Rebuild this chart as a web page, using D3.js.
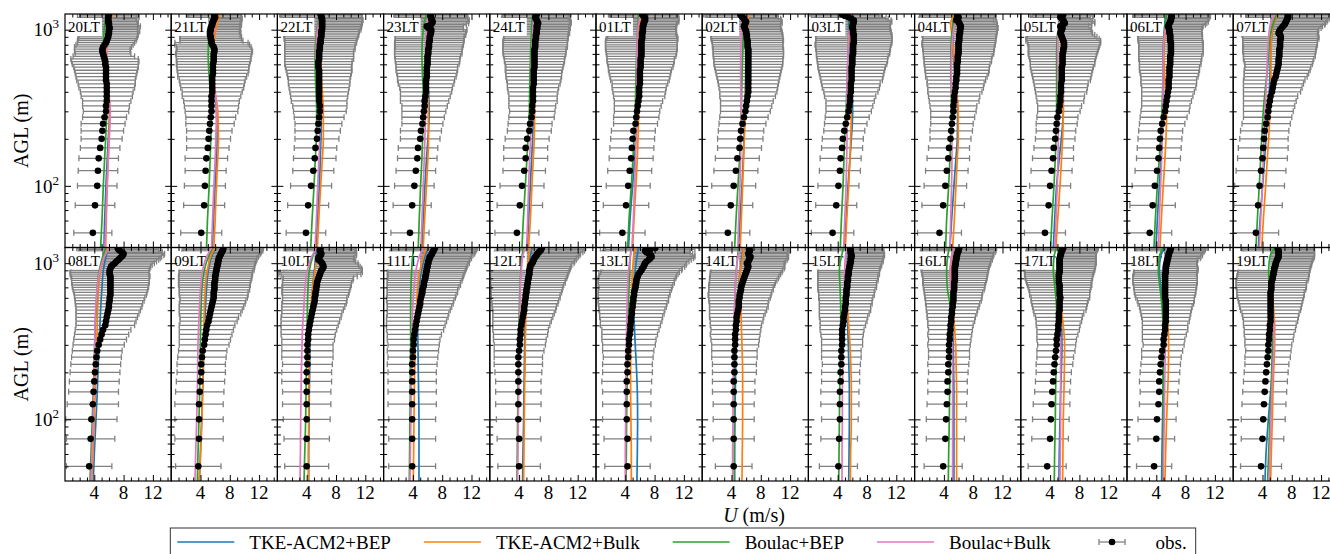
<!DOCTYPE html>
<html>
<head>
<meta charset="utf-8">
<script src="https://cdn.jsdelivr.net/npm/d3@7"></script>
<style>
  body { margin: 0; background: #fff; }
  svg { display: block; }
  svg text { font-family: "Liberation Serif", "DejaVu Serif", "Times New Roman", serif; fill: #000; }
</style>
</head>
<body>
<svg id="chart" width="1330" height="554" font-family="Liberation Serif, DejaVu Serif, serif"></svg>
<script>
// hours shown in the panels, left to right, top row then bottom row
const hours = ['20LT','21LT','22LT','23LT','24LT','01LT','02LT','03LT','04LT','05LT','06LT','07LT',
               '08LT','09LT','10LT','11LT','12LT','13LT','14LT','15LT','16LT','17LT','18LT','19LT']

// lidar levels (m AGL)
const obsHeights = [50,75,100,125,150,175,200,225,250,275,300,325,350,375,400,425,450,475,500,525,550,575,600,625,650,
                    675,700,725,750,775,800,825,850,875,900,925,950,975,1000,1025,1050,1075,1100,1125,1150,1175,1200,1225,1250]

// observed mean wind speed (m/s), one row per hour
const obsMean = [
  [3.8,4.1,4.4,4.5,4.6,4.8,5.0, 5.1,5.2,5.4,5.6,5.6,5.7,5.7, 5.7,5.7,5.7,5.6,5.6,5.6,5.6, 5.6,5.5,5.5,5.4,5.3,5.2,5.1, 5.1,5.2,5.4,5.6,5.7,5.8,5.9, 5.9,6.0,6.0,6.0,6.1,6.0,6.0, 6.0,5.9,5.9,5.9,5.9,5.9,6.0],
  [4.1,4.5,4.6,4.7,4.8,5.0,5.1, 5.2,5.3,5.4,5.5,5.5,5.5,5.5, 5.6,5.6,5.6,5.6,5.6,5.7,5.7, 5.7,5.7,5.8,5.8,5.8,5.8,5.9, 5.9,5.8,5.6,5.5,5.5,5.4,5.4, 5.3,5.3,5.3,5.4,5.4,5.5,5.6, 5.6,5.7,5.8,5.9,6.0,5.9,5.9],
  [3.9,4.2,4.6,4.9,5.1,5.2,5.4, 5.5,5.6,5.7,5.8,5.8,5.7,5.7, 5.7,5.7,5.7,5.7,5.7,5.7,5.7, 5.6,5.6,5.6,5.7,5.7,5.7,5.7, 5.8,5.8,5.8,5.9,5.9,5.9,6.0, 6.0,6.0,6.0,6.1,6.1,6.1,6.1, 6.1,6.1,6.1,6.1,6.0,6.0,5.9],
  [3.6,3.9,4.2,4.4,4.6,4.7,5.0, 5.1,5.3,5.4,5.5,5.6,5.6,5.7, 5.8,5.8,5.8,5.8,5.9,5.9,5.9, 5.9,6.0,6.0,6.0,6.0,6.1,6.1, 6.1,6.2,6.2,6.2,6.3,6.3,6.3, 6.4,6.4,6.5,6.5,6.1,5.9,6.4, 6.6,6.7,6.6,6.5,6.5,6.4,6.4],
  [3.7,4.1,4.4,4.7,4.9,4.9,5.1, 5.4,5.5,5.7,5.8,5.8,5.9,5.9, 5.9,5.9,6.0,6.0,6.0,6.0,6.0, 6.1,6.1,6.1,6.1,6.1,6.1,6.1, 6.1,6.2,6.2,6.2,6.2,6.3,6.3, 6.3,6.4,6.4,6.4,6.5,6.4,6.5, 6.6,6.5,6.4,6.3,6.2,6.3,6.4],
  [3.6,4.1,4.4,4.6,4.8,4.9,5.0, 5.1,5.4,5.5,5.6,5.7,5.8,5.9, 5.9,5.9,6.0,6.0,6.0,6.0,6.0, 6.1,6.1,6.1,6.1,6.2,6.2,6.2, 6.2,6.2,6.2,6.2,6.2,6.3,6.3, 6.3,6.3,6.4,6.4,6.4,6.4,6.5, 6.5,6.6,6.7,6.7,6.6,6.5,6.3],
  [3.5,3.9,4.3,4.6,4.8,5.1,5.2, 5.3,5.5,5.7,5.9,6.0,6.1,6.2, 6.3,6.3,6.3,6.3,6.3,6.3,6.3, 6.3,6.3,6.3,6.3,6.3,6.3,6.3, 6.3,6.2,6.2,6.2,6.2,6.1,6.1, 6.1,6.0,6.0,5.9,5.8,5.7,5.8, 5.9,6.0,5.8,5.7,5.5,5.4,5.2],
  [3.3,3.8,4.1,4.3,4.4,4.6,4.7, 4.9,5.1,5.3,5.5,5.6,5.7,5.7, 5.8,5.8,5.8,5.9,5.9,5.9,5.9, 5.9,6.0,6.0,6.0,6.0,6.1,6.1, 6.1,6.1,6.1,6.2,6.2,6.2,6.2, 6.2,6.1,6.1,6.1,6.0,6.0,6.1, 6.1,6.2,6.2,5.9,5.5,5.0,4.6],
  [3.4,3.9,4.2,4.4,4.6,4.7,4.9, 5.0,5.1,5.2,5.3,5.3,5.4,5.4, 5.5,5.6,5.6,5.7,5.7,5.8,5.8, 5.8,5.8,5.9,5.9,5.9,6.0,6.0, 6.0,6.0,6.0,6.0,6.1,6.1,6.1, 6.1,6.2,6.2,6.2,6.3,6.3,6.2, 6.1,6.0,5.7,5.8,6.0,5.9,5.8],
  [3.3,3.8,4.0,4.2,4.4,4.5,4.7, 4.8,4.9,5.0,5.2,5.3,5.4,5.4, 5.5,5.5,5.5,5.6,5.6,5.6,5.6, 5.6,5.7,5.7,5.7,5.7,5.7,5.8, 5.8,5.9,5.9,5.9,5.8,5.7,5.6, 5.5,5.4,5.5,5.6,5.7,5.4,5.7, 6.0,5.9,5.8,5.6,5.4,5.6,5.8],
  [3.1,3.5,3.8,4.1,4.3,4.4,4.5, 4.6,4.8,5.0,5.2,5.3,5.4,5.5, 5.6,5.7,5.7,5.7,5.8,5.8,5.8, 5.8,5.9,5.9,5.9,5.9,6.0,6.0, 6.0,6.0,6.0,6.0,5.9,5.9,5.9, 5.9,5.8,5.8,5.8,5.7,5.6,5.7, 5.8,5.9,6.0,6.0,6.1,6.1,6.1],
  [3.1,3.4,3.6,3.8,4.0,4.1,4.2, 4.3,4.5,4.7,4.8,4.9,5.0,5.1, 5.3,5.4,5.5,5.6,5.8,5.9,6.0, 6.1,6.2,6.2,6.2,6.3,6.3,6.3, 6.3,6.4,6.4,6.4,6.4,6.5,6.5, 6.4,6.2,6.3,6.4,6.6,6.8,7.0, 7.1,7.2,7.3,7.4,7.5,7.5,7.5],
  [3.3,3.5,3.6,3.8,3.9,4.0,4.1, 4.2,4.3,4.4,4.6,4.8,5.0,5.2, 5.5,5.6,5.7,5.8,5.9,6.0,6.0, 6.1,6.1,6.2,6.2,6.2,6.2,6.2, 6.2,6.2,6.2,6.2,6.1,6.1,6.1, 6.2,6.3,6.5,6.8,7.0,7.3,7.5, 7.7,7.9,8.0,7.8,7.5,7.3,7.2],
  [3.7,3.8,3.8,3.8,3.9,4.0,4.1, 4.1,4.2,4.3,4.5,4.6,4.7,4.8, 4.9,5.1,5.2,5.3,5.4,5.5,5.6, 5.7,5.8,5.8,5.8,5.9,5.9,5.9, 5.9,6.0,6.0,6.0,6.1,6.1,6.2, 6.2,6.3,6.3,6.4,6.4,6.5,6.5, 6.6,6.7,6.8,6.9,7.0,7.1,7.1],
  [4.0,4.0,4.0,4.0,4.0,4.0,4.0, 4.1,4.1,4.1,4.1,4.2,4.2,4.3, 4.4,4.5,4.6,4.7,4.8,4.9,5.0, 5.1,5.1,5.2,5.2,5.3,5.3,5.4, 5.4,5.5,5.6,5.7,5.8,5.9,6.0, 6.2,6.3,6.2,6.1,5.9,5.6,5.6, 5.7,5.9,6.0,5.9,5.8,5.8,5.9],
  [3.9,3.9,3.9,3.9,3.9,3.9,3.9, 3.9,4.0,4.0,4.1,4.1,4.2,4.3, 4.4,4.5,4.6,4.7,4.8,4.9,5.0, 5.0,5.1,5.2,5.3,5.3,5.4,5.5, 5.5,5.6,5.7,5.7,5.8,5.8,5.9, 5.9,6.0,6.0,6.1,6.1,6.2,6.3, 6.3,6.5,6.6,6.7,6.8,6.9,7.0],
  [4.0,4.0,3.9,3.9,3.9,3.9,3.9, 3.9,3.9,4.0,4.1,4.1,4.2,4.2, 4.3,4.4,4.5,4.6,4.7,4.7,4.8, 4.8,4.9,4.9,5.0,5.0,5.1,5.1, 5.2,5.2,5.3,5.3,5.4,5.4,5.4, 5.5,5.5,5.6,5.8,5.9,6.0,6.1, 6.2,6.4,6.5,6.7,6.9,7.0,7.1],
  [4.3,4.3,4.2,4.2,4.2,4.2,4.3, 4.3,4.4,4.4,4.5,4.5,4.6,4.7, 4.7,4.8,4.8,4.9,4.9,5.0,5.0, 5.1,5.1,5.2,5.2,5.3,5.4,5.4, 5.5,5.5,5.6,5.7,5.8,6.0,6.2, 6.3,6.5,6.6,6.7,6.9,7.2,7.4, 7.6,7.5,7.2,6.9,6.7,7.4,8.1],
  [4.3,4.3,4.3,4.3,4.3,4.3,4.4, 4.4,4.4,4.4,4.5,4.5,4.5,4.6, 4.6,4.7,4.7,4.8,4.9,5.0,5.0, 5.0,5.1,5.1,5.2,5.3,5.3,5.4, 5.5,5.6,5.7,5.8,5.9,6.0,6.1, 6.2,6.3,6.2,6.1,6.3,6.4,6.5, 6.6,6.4,6.3,6.4,6.5,6.4,6.4],
  [4.1,4.2,4.3,4.3,4.3,4.4,4.4, 4.5,4.5,4.5,4.6,4.6,4.6,4.6, 4.7,4.8,4.8,4.9,5.0,5.0,5.1, 5.1,5.1,5.2,5.2,5.2,5.3,5.3, 5.3,5.4,5.4,5.4,5.5,5.5,5.5, 5.6,5.6,5.7,5.7,5.8,5.8,5.8, 5.9,5.9,5.8,5.8,5.8,5.7,5.7],
  [3.9,4.2,4.3,4.4,4.5,4.5,4.6, 4.6,4.7,4.7,4.7,4.8,4.8,4.9, 4.9,5.0,5.0,5.1,5.1,5.2,5.2, 5.3,5.3,5.3,5.3,5.4,5.4,5.4, 5.4,5.5,5.5,5.5,5.5,5.5,5.5, 5.5,5.5,5.6,5.6,5.6,5.7,5.7, 5.7,5.8,5.8,5.9,6.0,6.0,6.1],
  [3.6,4.0,4.1,4.2,4.3,4.4,4.5, 4.6,4.7,4.8,4.9,4.9,5.0,5.1, 5.1,5.2,5.2,5.2,5.3,5.3,5.3, 5.3,5.4,5.3,5.3,5.3,5.3,5.3, 5.2,5.2,5.2,5.2,5.2,5.3,5.3, 5.3,5.3,5.3,5.3,5.3,5.3,5.3, 5.4,5.4,5.5,5.5,5.6,5.7,5.8],
  [3.7,4.0,4.1,4.3,4.4,4.4,4.5, 4.6,4.7,4.8,5.0,5.0,5.1,5.2, 5.2,5.3,5.3,5.3,5.3,5.3,5.3, 5.3,5.2,5.2,5.2,5.2,5.2,5.2, 5.2,5.2,5.2,5.2,5.2,5.3,5.3, 5.3,5.3,5.4,5.4,5.5,5.5,5.6, 5.6,5.7,5.7,5.8,5.9,5.9,6.0],
  [3.8,4.0,4.1,4.2,4.3,4.4,4.5, 4.6,4.7,4.8,4.8,4.9,4.9,5.0, 5.0,5.1,5.1,5.1,5.1,5.1,5.1, 5.1,5.1,5.1,5.1,5.2,5.2,5.2, 5.2,5.3,5.4,5.4,5.5,5.5,5.6, 5.6,5.7,5.8,5.8,5.9,6.0,6.1, 6.2,6.2,6.2,6.2,6.2,6.1,6.1]
]

// observed standard deviation (m/s), drawn as horizontal error bars
const obsStd = [
  [2.6,2.7,2.7,2.7,2.7,2.7,2.8, 2.9,3.0,3.0,3.1,3.2,3.3,3.5, 3.6,3.8,3.9,4.0,4.1,4.2,4.3, 4.4,4.5,4.6,4.6,4.2,3.8,3.8, 3.8,3.9,3.9,3.9,4.0,4.0,4.0, 4.1,3.9,4.2,3.9,4.0,4.3,3.9, 4.0,4.1,3.9,3.8,4.2,3.9,4.0],
  [2.8,2.8,2.8,2.8,2.9,2.9,3.0, 3.1,3.3,3.4,3.6,3.7,3.8,4.0, 4.1,4.3,4.4,4.5,4.7,4.8,4.9, 4.9,5.0,5.0,5.1,5.1,5.2,5.2, 5.1,5.1,5.1,5.0,4.3,4.2,4.2, 4.1,4.2,4.0,4.1,4.0,3.9,4.0, 3.8,3.9,3.7,3.8,3.6,3.7,3.6],
  [2.7,2.8,2.8,2.8,2.9,2.9,3.0, 3.1,3.2,3.4,3.6,3.7,3.8,3.9, 4.0,4.1,4.2,4.2,4.3,4.4,4.5, 4.5,4.6,4.6,4.7,4.7,4.7,4.7, 4.8,4.8,4.8,4.9,4.9,5.0,5.0, 5.1,5.1,5.2,5.3,5.3,5.4,5.4, 5.5,5.5,5.6,5.5,5.6,5.5,5.6],
  [2.6,2.6,2.7,2.7,2.7,2.7,2.7, 2.8,2.8,2.9,3.0,3.1,3.3,3.4, 3.5,3.6,3.8,3.9,4.0,4.1,4.2, 4.2,4.3,4.4,4.4,4.5,4.6,4.6, 4.6,4.6,4.7,4.7,4.7,4.7,4.7, 4.8,4.8,4.8,4.9,4.8,5.0,4.9, 5.0,4.9,5.1,5.0,5.0,4.9,5.0],
  [3.0,3.1,3.0,2.9,3.0,3.0,3.0, 3.0,3.0,3.1,3.1,3.2,3.3,3.3, 3.4,3.5,3.6,3.7,3.8,3.8,3.9, 3.9,4.0,4.1,4.1,4.2,4.3,4.3, 4.3,4.4,4.4,4.4,4.4,4.4,4.4, 4.4,4.5,4.4,4.4,4.5,4.4,4.5, 4.5,4.6,4.5,4.7,4.5,4.6,4.6],
  [3.1,3.1,3.0,3.0,3.0,3.0,3.0, 3.0,3.0,3.1,3.1,3.2,3.3,3.5, 3.6,3.7,3.8,4.0,4.1,4.2,4.3, 4.4,4.5,4.6,4.6,4.7,4.8,4.8, 4.9,4.9,4.9,4.9,4.9,4.9,4.8, 4.7,4.6,4.6,4.5,4.5,4.6,4.5, 4.6,4.7,4.6,4.6,4.7,4.6,4.6],
  [3.0,3.0,3.0,3.0,3.0,3.0,3.1, 3.1,3.2,3.3,3.4,3.5,3.6,3.8, 3.9,4.0,4.1,4.2,4.3,4.4,4.5, 4.6,4.7,4.7,4.7,4.8,4.8,4.8, 4.8,4.8,4.8,4.8,4.9,4.9,4.9, 4.9,4.9,4.9,4.9,4.9,5.0,4.9, 5.0,4.9,5.0,5.0,4.9,5.0,5.0],
  [2.9,2.8,2.8,2.8,2.8,2.8,2.8, 2.8,2.9,3.0,3.1,3.2,3.3,3.5, 3.7,3.9,4.0,4.2,4.3,4.4,4.5, 4.6,4.7,4.8,4.8,4.9,5.0,5.0, 5.1,5.1,5.2,5.2,5.2,5.2,5.2, 5.2,5.2,5.2,5.1,5.1,5.2,5.1, 5.1,5.2,5.1,5.0,5.1,5.0,5.0],
  [3.0,2.9,2.9,2.9,2.9,2.8,2.8, 2.9,2.9,3.0,3.1,3.2,3.4,3.5, 3.7,3.8,3.9,4.0,4.2,4.3,4.4, 4.4,4.5,4.6,4.6,4.7,4.8,4.8, 4.9,4.9,5.0,5.0,5.0,5.0,5.0, 5.1,5.0,5.1,5.1,5.1,5.0,5.1, 5.1,5.2,5.1,5.2,5.1,5.2,5.1],
  [2.8,2.8,2.8,2.8,2.8,2.7,2.7, 2.7,2.8,2.8,2.9,3.0,3.2,3.3, 3.5,3.6,3.7,3.9,4.0,4.1,4.2, 4.3,4.4,4.4,4.5,4.6,4.7,4.7, 4.8,4.8,4.9,5.0,5.1,5.0,4.8, 4.6,4.4,4.2,4.0,3.9,3.9,4.0, 4.1,4.2,4.0,4.2,4.1,4.3,4.2],
  [3.0,3.1,3.1,3.0,3.0,3.0,3.0, 3.0,3.1,3.2,3.3,3.3,3.4,3.5, 3.6,3.7,3.8,3.8,3.9,4.0,4.1, 4.1,4.2,4.2,4.3,4.3,4.4,4.4, 4.4,4.4,4.4,4.4,4.4,4.4,4.4, 4.4,4.4,4.4,4.4,4.6,4.8,5.0, 5.1,5.2,5.1,5.2,5.2,5.3,5.2],
  [3.1,3.3,3.4,3.4,3.4,3.4,3.3, 3.3,3.3,3.3,3.4,3.5,3.6,3.7, 3.9,4.0,4.1,4.2,4.3,4.4,4.5, 4.5,4.6,4.7,4.8,4.9,4.9,5.0, 5.0,5.0,5.1,5.1,5.1,5.2,5.2, 5.2,5.3,5.3,5.3,5.4,5.4,5.5, 5.5,5.6,5.6,5.7,5.7,5.8,5.8],
  [3.1,3.3,3.5,3.5,3.4,3.4,3.4, 3.4,3.4,3.4,3.5,3.6,3.7,3.8, 4.0,4.1,4.2,4.3,4.4,4.5,4.6, 4.7,4.8,4.9,5.0,5.1,5.2,5.2, 5.3,5.3,5.3,5.4,5.4,5.4,5.4, 5.4,5.4,5.4,5.4,5.5,5.5,5.5, 5.5,5.6,5.6,5.5,5.6,5.5,5.6],
  [3.1,3.3,3.3,3.3,3.3,3.3,3.3, 3.3,3.3,3.3,3.4,3.5,3.6,3.7, 3.8,3.9,4.0,4.2,4.3,4.4,4.5, 4.5,4.6,4.7,4.7,4.8,4.8,4.9, 4.9,4.9,5.0,5.0,5.0,5.0,5.1, 5.1,5.1,5.1,5.1,5.2,5.2,5.2, 5.3,5.3,5.4,5.4,5.5,5.4,5.5],
  [3.0,3.1,3.2,3.3,3.3,3.4,3.4, 3.4,3.5,3.5,3.5,3.6,3.7,3.8, 3.9,4.0,4.1,4.1,4.2,4.3,4.4, 4.4,4.4,4.5,4.6,4.6,4.7,4.7, 4.7,4.8,4.8,5.2,5.6,5.7,5.6, 5.3,5.0,4.9,4.9,4.8,4.9,4.8, 4.9,4.9,4.8,4.9,4.9,4.8,4.9],
  [3.2,3.2,3.2,3.3,3.3,3.3,3.3, 3.4,3.4,3.5,3.5,3.6,3.7,3.9, 4.0,4.1,4.2,4.2,4.3,4.4,4.5, 4.6,4.7,4.7,4.8,4.8,4.9,5.0, 5.0,5.1,5.1,5.2,5.2,5.3,5.3, 5.4,5.4,5.5,5.6,5.6,5.6,5.7, 5.7,5.7,5.8,5.8,5.8,5.8,5.8],
  [2.9,3.0,3.0,3.1,3.1,3.1,3.2, 3.3,3.3,3.4,3.5,3.6,3.7,3.8, 3.9,4.0,4.1,4.2,4.3,4.4,4.5, 4.6,4.7,4.7,4.8,4.9,4.9,5.0, 5.1,5.1,5.2,5.3,5.3,5.4,5.5, 5.5,5.6,5.6,5.7,5.7,5.8,5.8, 5.9,5.9,5.9,6.0,6.0,6.0,6.0],
  [3.1,3.2,3.3,3.3,3.3,3.4,3.4, 3.4,3.4,3.5,3.6,3.7,3.8,3.9, 4.1,4.2,4.3,4.4,4.5,4.6,4.7, 4.8,4.8,4.9,4.9,5.0,5.0,5.1, 5.2,5.2,5.3,5.3,5.4,5.4,5.5, 5.5,5.6,5.7,5.7,5.8,5.8,5.9, 5.9,6.0,6.0,6.0,6.1,6.1,6.1],
  [2.5,2.8,2.8,2.8,2.9,2.9,3.0, 3.0,3.1,3.1,3.2,3.3,3.4,3.4, 3.5,3.6,3.7,3.8,3.9,4.0,4.0, 4.1,4.2,4.3,4.3,4.4,4.4,4.5, 4.5,4.6,4.7,4.7,4.8,4.9,4.9, 5.0,5.0,5.0,5.1,5.1,5.2,5.2, 5.2,5.3,5.3,5.3,5.4,5.3,5.4],
  [2.6,2.5,2.5,2.6,2.6,2.6,2.6, 2.6,2.7,2.7,2.8,2.8,2.9,3.0, 3.1,3.2,3.3,3.4,3.5,3.5,3.6, 3.6,3.7,3.8,3.8,3.9,4.0,4.0, 4.0,4.1,4.1,4.1,4.2,4.2,4.2, 4.2,4.3,4.3,4.3,4.4,4.4,4.4, 4.4,4.5,4.5,4.5,4.5,4.5,4.5],
  [2.6,2.6,2.7,2.7,2.7,2.7,2.7, 2.8,2.8,2.8,2.9,2.9,3.0,3.0, 3.1,3.2,3.3,3.4,3.5,3.6,3.7, 3.8,3.9,3.9,4.0,4.1,4.2,4.2, 4.3,4.3,4.4,4.4,4.5,4.5,4.6, 4.6,4.7,4.7,4.8,4.8,4.9,4.9, 5.0,5.0,5.0,5.1,5.1,5.1,5.1],
  [2.6,2.5,2.5,2.5,2.4,2.4,2.4, 2.5,2.5,2.6,2.6,2.7,2.8,2.9, 3.0,3.1,3.2,3.4,3.6,3.7,3.8, 3.9,4.0,4.1,4.1,4.2,4.3,4.4, 4.4,4.5,4.6,4.6,4.7,4.7,4.8, 4.8,4.9,4.9,5.0,5.0,5.0,4.9, 4.9,4.9,4.8,4.8,4.8,4.8,4.8],
  [2.4,2.5,2.6,2.6,2.6,2.7,2.7, 2.7,2.7,2.8,2.8,2.9,3.0,3.1, 3.1,3.2,3.3,3.4,3.5,3.6,3.8, 3.9,4.0,4.1,4.2,4.2,4.3,4.3, 4.4,4.4,4.4,4.4,4.3,4.3,4.4, 4.4,4.3,4.2,4.1,4.1,4.2,4.4, 4.5,4.6,4.6,4.7,4.7,4.8,4.8],
  [2.8,2.9,3.0,3.0,3.0,3.0,3.0, 3.0,3.1,3.1,3.2,3.3,3.4,3.5, 3.6,3.7,3.8,3.9,4.1,4.2,4.3, 4.4,4.5,4.6,4.6,4.7,4.8,4.8, 4.8,4.9,4.9,4.9,4.9,4.9,4.9, 4.9,4.9,4.9,4.9,4.9,4.9,4.9, 4.9,4.9,4.9,4.9,4.9,4.9,4.9]
]

// model output levels (m AGL)
const modelHeights = [40, 60, 100, 150, 200, 300, 400, 500, 700, 900, 1100, 1260]

// TKE-ACM2+BEP
const acm2Bep = [
  [5.32,5.41,5.59,5.77,5.91,6.09,5.95,5.77,5.5,5.68,5.91,6.14],
  [5.64,5.77,6.0,6.18,6.27,6.18,5.91,5.73,5.59,5.73,6.0,6.36],
  [5.27,5.45,5.73,5.86,5.95,6.0,5.91,5.82,5.73,5.82,5.95,6.09],
  [5.23,5.41,5.64,5.86,6.05,6.23,6.14,6.0,6.05,6.18,6.32,6.41],
  [5.12,5.3,5.53,5.71,5.85,5.94,5.94,5.94,5.94,6.03,6.12,6.2],
  [4.45,4.64,5.0,5.27,5.41,5.64,5.68,5.73,5.82,5.91,6.05,6.18],
  [4.97,5.15,5.43,5.61,5.7,5.84,5.88,5.93,5.97,6.02,6.11,6.25],
  [4.95,5.14,5.41,5.68,5.86,6.05,5.95,5.77,5.59,5.5,5.5,5.73],
  [4.83,5.05,5.37,5.64,5.83,5.87,5.74,5.51,5.28,5.19,5.28,5.51],
  [4.44,4.62,4.89,5.25,5.53,5.8,5.8,5.71,5.57,5.57,5.71,6.03],
  [3.95,4.14,4.41,4.64,4.77,4.95,4.95,4.95,4.95,5.05,5.18,5.41],
  [3.43,3.66,4.02,4.29,4.48,4.75,4.93,5.02,5.11,5.25,5.57,6.16],
  [3.86,4.0,4.23,4.41,4.5,4.64,4.77,4.86,5.05,5.23,5.59,5.91],
  [3.84,3.98,4.16,4.29,4.38,4.47,4.57,4.66,4.84,5.07,5.52,6.11],
  [4.27,4.27,4.32,4.36,4.41,4.45,4.55,4.64,4.82,5.05,5.27,5.59],
  [4.83,4.83,4.83,4.78,4.74,4.69,4.65,4.69,4.87,5.19,5.65,6.1],
  [4.48,4.53,4.62,4.66,4.71,4.75,4.8,4.85,4.94,5.21,5.53,5.75],
  [5.59,5.64,5.68,5.64,5.55,5.36,5.23,5.14,5.14,5.36,5.59,5.82],
  [4.43,4.43,4.47,4.52,4.56,4.61,4.7,4.79,4.97,5.2,5.43,5.65],
  [5.5,5.55,5.59,5.59,5.55,5.45,5.36,5.27,5.18,5.27,5.41,5.64],
  [5.37,5.37,5.37,5.37,5.33,5.28,5.19,5.15,5.01,4.92,5.05,5.28],
  [5.21,5.25,5.35,5.44,5.53,5.62,5.57,5.44,5.25,5.16,5.25,5.57],
  [4.73,4.77,4.86,4.91,4.95,5.0,5.0,4.95,4.64,4.41,4.59,5.18],
  [4.34,4.48,4.8,5.11,5.34,5.56,5.56,5.48,5.34,5.48,5.84,6.16]
]

// TKE-ACM2+Bulk
const acm2Bulk = [
  [5.55,5.64,5.77,5.91,6.0,6.09,6.0,5.82,5.68,5.82,6.14,6.5],
  [5.82,6.0,6.18,6.36,6.45,6.36,6.0,5.82,5.73,5.95,6.27,6.64],
  [5.45,5.64,5.91,6.14,6.27,6.27,6.14,6.0,5.95,6.0,6.05,6.18],
  [5.41,5.59,5.86,6.05,6.14,6.09,6.05,6.0,6.0,6.14,6.32,6.41],
  [5.3,5.53,5.75,5.94,6.07,6.12,6.07,6.03,5.98,6.03,6.12,6.2],
  [5.0,5.18,5.45,5.64,5.73,5.82,5.82,5.82,5.86,5.91,6.0,6.18],
  [5.2,5.34,5.52,5.66,5.75,5.88,5.93,5.97,6.06,6.11,6.25,6.34],
  [5.05,5.23,5.5,5.68,5.77,5.86,5.86,5.82,5.77,5.73,5.73,5.95],
  [5.19,5.42,5.65,5.83,5.96,5.96,5.74,5.51,5.37,5.1,4.92,5.51],
  [4.8,5.03,5.35,5.57,5.71,5.8,5.75,5.62,5.53,5.57,5.8,6.16],
  [4.5,4.68,4.95,5.18,5.32,5.41,5.27,5.14,5.05,5.18,5.5,5.86],
  [3.89,4.11,4.43,4.66,4.84,5.02,5.11,5.16,5.16,5.25,5.57,6.16],
  [3.64,3.82,4.0,4.14,4.23,4.32,4.41,4.45,4.59,4.86,5.36,5.91],
  [3.84,4.02,4.2,4.29,4.34,4.38,4.47,4.52,4.66,4.93,5.38,5.97],
  [4.23,4.23,4.27,4.27,4.32,4.36,4.45,4.55,4.82,5.14,5.45,5.82],
  [4.05,4.1,4.15,4.19,4.24,4.33,4.42,4.51,4.65,4.96,5.42,5.87],
  [4.62,4.66,4.71,4.75,4.8,4.85,4.89,4.94,4.98,5.12,5.3,5.53],
  [4.82,4.82,4.77,4.73,4.73,4.73,4.77,4.82,4.91,5.0,5.14,5.36],
  [5.43,5.47,5.52,5.52,5.52,5.43,5.34,5.29,5.07,5.2,5.52,5.65],
  [5.73,5.77,5.86,5.86,5.82,5.68,5.5,5.36,5.18,5.27,5.5,5.73],
  [5.74,5.74,5.74,5.74,5.69,5.6,5.42,5.28,5.05,4.92,5.05,5.28],
  [5.71,5.75,5.8,5.89,5.94,5.98,5.8,5.57,5.35,5.25,5.35,5.66],
  [5.18,5.27,5.41,5.55,5.64,5.68,5.59,5.41,5.18,5.18,5.41,5.86],
  [5.11,5.2,5.34,5.43,5.52,5.66,5.66,5.52,5.34,5.48,5.93,6.39]
]

// Boulac+BEP
const boulacBep = [
  [4.86,5.05,5.23,5.41,5.55,5.68,5.59,5.45,5.23,5.27,5.45,5.68],
  [4.82,4.95,5.18,5.32,5.41,5.5,5.36,5.18,5.05,5.14,5.36,5.64],
  [4.55,4.73,5.0,5.18,5.32,5.36,5.27,5.18,5.14,5.27,5.55,5.82],
  [4.73,4.86,5.05,5.23,5.32,5.41,5.41,5.32,5.23,5.32,5.55,5.86],
  [4.39,4.57,4.85,5.07,5.21,5.39,5.44,5.48,5.57,5.66,5.75,5.85],
  [4.32,4.5,4.82,5.05,5.18,5.36,5.41,5.45,5.55,5.64,5.73,5.82],
  [4.43,4.61,4.88,5.11,5.25,5.34,5.38,5.43,5.52,5.61,5.7,5.79],
  [4.36,4.5,4.73,4.86,4.95,5.14,5.23,5.32,5.41,5.5,5.64,5.73],
  [4.24,4.37,4.65,4.83,4.92,5.01,5.01,4.96,4.96,5.05,5.28,5.51],
  [4.07,4.25,4.53,4.71,4.8,4.89,4.89,4.89,4.89,4.98,5.25,5.57],
  [3.68,3.86,4.14,4.41,4.59,4.77,4.86,4.91,4.95,5.05,5.23,5.41],
  [3.11,3.29,3.56,3.75,3.89,4.11,4.34,4.57,4.84,5.02,5.47,5.93],
  [3.41,3.55,3.73,3.86,3.95,4.05,4.14,4.23,4.41,4.68,5.14,5.59],
  [3.57,3.66,3.79,3.89,3.93,3.98,4.02,4.07,4.2,4.52,5.07,5.66],
  [3.64,3.73,3.86,3.91,3.95,4.0,4.05,4.09,4.18,4.36,4.82,5.27],
  [3.51,3.55,3.6,3.64,3.64,3.69,3.69,3.69,3.74,3.83,3.96,4.15],
  [3.71,3.75,3.8,3.85,3.89,3.94,3.98,4.03,4.12,4.25,4.39,4.62],
  [4.09,4.14,4.18,4.23,4.27,4.32,4.36,4.41,4.5,4.59,4.68,4.82],
  [4.38,4.38,4.38,4.38,4.38,4.43,4.43,4.47,4.52,4.66,4.84,4.97],
  [4.14,4.18,4.23,4.27,4.32,4.36,4.41,4.41,4.32,4.23,4.5,4.82],
  [4.6,4.65,4.74,4.78,4.83,4.92,4.96,4.92,4.46,4.37,4.51,4.74],
  [4.57,4.62,4.71,4.75,4.8,4.84,4.89,4.89,4.66,4.44,4.53,4.89],
  [4.86,4.91,4.95,4.95,4.95,4.95,4.91,4.82,4.5,4.27,4.41,4.95],
  [4.7,4.84,5.02,5.16,5.25,5.34,5.29,5.16,4.93,4.84,5.02,5.7]
]

// Boulac+Bulk
const boulacBulk = [
  [5.45,5.59,5.73,5.91,6.05,6.18,5.95,5.77,5.59,5.77,5.95,6.14],
  [5.5,5.64,5.82,6.0,6.09,6.18,6.0,5.82,5.64,5.73,5.95,6.18],
  [5.14,5.32,5.5,5.68,5.77,5.77,5.64,5.45,5.27,5.36,5.64,6.05],
  [5.09,5.23,5.41,5.55,5.64,5.73,5.77,5.73,5.68,5.77,6.0,6.23],
  [5.03,5.16,5.3,5.44,5.57,5.66,5.66,5.66,5.75,5.85,5.94,6.12],
  [4.91,5.09,5.27,5.41,5.45,5.55,5.55,5.55,5.59,5.64,5.82,6.09],
  [4.88,4.97,5.15,5.25,5.29,5.34,5.29,5.25,5.25,5.34,5.43,5.65],
  [4.82,4.95,5.14,5.23,5.27,5.27,5.27,5.32,5.41,5.5,5.77,6.18],
  [4.83,4.92,5.05,5.1,5.1,5.1,5.05,5.01,5.05,5.19,5.51,5.96],
  [4.66,4.8,4.98,5.07,5.12,5.16,5.12,5.07,5.03,5.07,5.25,5.8],
  [4.27,4.41,4.59,4.73,4.82,4.91,4.91,4.91,4.95,5.09,5.41,5.86],
  [3.56,3.75,3.98,4.11,4.2,4.34,4.48,4.57,4.7,4.84,5.11,5.7],
  [3.55,3.68,3.86,3.95,4.0,4.05,4.09,4.18,4.41,4.77,5.36,6.05],
  [3.25,3.34,3.48,3.57,3.61,3.66,3.75,3.84,4.02,4.29,4.84,5.52],
  [3.09,3.14,3.18,3.23,3.27,3.36,3.45,3.59,3.77,4.09,4.68,5.36],
  [3.6,3.65,3.74,3.78,3.83,3.87,3.92,3.96,4.15,4.42,4.87,5.42],
  [3.8,3.85,3.89,3.94,3.98,4.03,4.07,4.12,4.16,4.3,4.48,4.85],
  [4.0,4.0,4.05,4.05,4.09,4.14,4.18,4.23,4.32,4.45,4.68,4.91],
  [4.15,4.15,4.2,4.2,4.25,4.29,4.34,4.38,4.52,4.66,4.88,5.2],
  [4.59,4.59,4.64,4.64,4.68,4.73,4.77,4.82,4.91,4.95,5.05,5.27],
  [5.19,5.19,5.19,5.19,5.19,5.15,5.15,5.1,4.92,4.83,5.05,5.28],
  [5.35,5.39,5.44,5.44,5.44,5.44,5.39,5.35,5.25,5.21,5.35,5.66],
  [4.95,5.0,5.09,5.14,5.18,5.23,5.23,5.18,5.05,4.95,5.18,5.64],
  [4.93,5.02,5.16,5.29,5.39,5.56,5.56,5.39,5.2,5.39,5.84,6.29]
]

const seriesNames = ['TKE-ACM2+BEP', 'TKE-ACM2+Bulk', 'Boulac+BEP', 'Boulac+Bulk']
const seriesColors = ['#1f77b4', '#ff7f0e', '#2ca02c', '#e377c2']
const models = [acm2Bep, acm2Bulk, boulacBep, boulacBulk]

const xMajor = [4, 8, 12]
const xMinor = [1, 2, 3, 5, 6, 7, 9, 10, 11, 13, 14]
const yMajor = [100, 1000]
const yMinor = [50, 60, 70, 80, 90, 200, 300, 400, 500, 600, 700, 800, 900]

// layout
const NCOL = 12, LEFT = 65, TOP = 14, PW = 106.2, PH = 233.5
const SERIF = 'Liberation Serif, DejaVu Serif, serif'
const svg = d3.select('#chart')
const x = d3.scaleLinear().domain([0, 14.5]).range([0, PW])
const y = d3.scaleLog().domain([40.3, 1260]).range([PH, 0])

svg.append('defs').append('clipPath').attr('id', 'panel-clip')
  .append('rect').attr('width', PW).attr('height', PH)

const profile = d3.line().x(d => x(d[1])).y(d => y(d[0])).curve(d3.curveMonotoneY)

// inward ticks, no labels
function ticks(g, axis, vals, size, tx, ty){
  g.append('g').attr('transform', `translate(${tx},${ty})`)
    .call(axis.tickValues(vals).tickSize(size).tickFormat(''))
    .call(a => a.select('.domain').remove())
    .selectAll('line').attr('stroke', '#000').attr('stroke-width', 1)
}

hours.forEach((hr, i) => {
  const row = Math.floor(i / NCOL), col = i % NCOL
  const g = svg.append('g').attr('transform', `translate(${LEFT + col * PW},${TOP + row * PH})`)
  const plot = g.append('g').attr('clip-path', 'url(#panel-clip)')
  const obs = obsHeights.map((h, j) => ({ h, u: obsMean[i][j], s: obsStd[i][j] }))

  // error bars + caps
  const eb = plot.append('g').attr('stroke', '#808080').attr('stroke-width', 1.3)
  eb.selectAll('line.bar').data(obs).join('line').attr('class', 'bar')
    .attr('x1', d => x(d.u - d.s)).attr('x2', d => x(d.u + d.s))
    .attr('y1', d => y(d.h)).attr('y2', d => y(d.h))
  eb.selectAll('line.cap').data(obs.flatMap(d => [[d.h, d.u - d.s], [d.h, d.u + d.s]])).join('line').attr('class', 'cap')
    .attr('x1', d => x(d[1])).attr('x2', d => x(d[1]))
    .attr('y1', d => y(d[0]) - 3).attr('y2', d => y(d[0]) + 3)

  // hour tag on a white box
  const tag = plot.append('g')
  const t = tag.append('text').attr('x', 3).attr('y', 18).attr('font-family', SERIF)
    .attr('font-size', 15).text(hr)
  const bb = t.node().getBBox()
  tag.insert('rect', 'text').attr('x', bb.x - 2).attr('y', bb.y - 1)
    .attr('width', bb.width + 4).attr('height', bb.height + 2).attr('fill', '#fff')

  // model profiles
  models.forEach((m, k) => {
    plot.append('path').datum(modelHeights.map((h, j) => [h, m[i][j]]))
      .attr('d', profile).attr('fill', 'none')
      .attr('stroke', seriesColors[k]).attr('stroke-width', 1.7)
  })

  // observed means
  plot.append('g').selectAll('circle').data(obs).join('circle')
    .attr('cx', d => x(d.u)).attr('cy', d => y(d.h)).attr('r', 3.3).attr('fill', '#000')

  // ticks on all four sides, pointing in
  ticks(g, d3.axisLeft(y), yMajor, -6, 0, 0)
  ticks(g, d3.axisLeft(y), yMinor, -3.5, 0, 0)
  ticks(g, d3.axisRight(y), yMajor, -6, PW, 0)
  ticks(g, d3.axisRight(y), yMinor, -3.5, PW, 0)
  ticks(g, d3.axisBottom(x), xMajor, -6, 0, PH)
  ticks(g, d3.axisBottom(x), xMinor, -3.5, 0, PH)
  ticks(g, d3.axisTop(x), xMajor, -6, 0, 0)
  ticks(g, d3.axisTop(x), xMinor, -3.5, 0, 0)

  g.append('rect').attr('width', PW).attr('height', PH)
    .attr('fill', 'none').attr('stroke', '#000').attr('stroke-width', 1.2)

  if (col === 0) {
    yMajor.forEach(v => {
      const lab = g.append('text').attr('x', -6).attr('y', y(v)).attr('dy', '0.35em')
        .attr('text-anchor', 'end').attr('font-family', SERIF).attr('font-size', 19)
      lab.append('tspan').text('10')
      lab.append('tspan').attr('dy', -8).attr('font-size', 13).text(Math.round(Math.log10(v)))
    })
    svg.append('text').attr('transform', `translate(21,${TOP + row * PH + PH / 2}) rotate(-90)`)
      .attr('text-anchor', 'middle').attr('dy', '0.35em').attr('font-family', SERIF)
      .attr('font-size', 20).text('AGL (m)')
  }
  if (row === 1) {
    g.append('g').selectAll('text').data(xMajor).join('text')
      .attr('x', d => x(d)).attr('y', PH + 18).attr('text-anchor', 'middle').attr('font-family', SERIF)
      .attr('font-size', 19).text(d => d)
  }
})

// x label
const xl = svg.append('text').attr('x', 754).attr('y', 522).attr('text-anchor', 'middle')
  .attr('font-family', SERIF).attr('font-size', 20)
xl.append('tspan').attr('font-style', 'italic').text('U')
xl.append('tspan').text(' (m/s)')

// legend
const LEG_CX = 682, LEG_Y = 542, HANDLE = 57, HGAP = 15, COLSP = 33
const legend = svg.append('g')
const legendItems = seriesNames.map((n, k) => ({ name: n, color: seriesColors[k] })).concat([{ name: 'obs.', obs: true }])
let cursor = 0
legendItems.forEach(it => {
  const item = legend.append('g').attr('transform', `translate(${cursor},0)`)
  if (it.obs) {
    const cx = HANDLE / 2
    item.append('line').attr('x1', cx - 13).attr('x2', cx + 13).attr('y1', LEG_Y).attr('y2', LEG_Y)
      .attr('stroke', '#808080').attr('stroke-width', 1.3)
    ;[cx - 13, cx + 13].forEach(v => item.append('line').attr('x1', v).attr('x2', v)
      .attr('y1', LEG_Y - 3).attr('y2', LEG_Y + 3).attr('stroke', '#808080').attr('stroke-width', 1.3))
    item.append('circle').attr('cx', cx).attr('cy', LEG_Y).attr('r', 3.3).attr('fill', '#000')
  } else {
    item.append('line').attr('x1', 0).attr('x2', HANDLE).attr('y1', LEG_Y).attr('y2', LEG_Y)
      .attr('stroke', it.color).attr('stroke-width', 1.7)
  }
  const txt = item.append('text').attr('x', HANDLE + HGAP).attr('y', LEG_Y).attr('dy', '0.35em')
    .attr('font-family', SERIF).attr('font-size', 19).text(it.name)
  cursor += HANDLE + HGAP + txt.node().getComputedTextLength() + COLSP
})
const legW = cursor - COLSP
const legX0 = LEG_CX - legW / 2
legend.attr('transform', `translate(${legX0},0)`)
legend.insert('rect', ':first-child').attr('x', -7).attr('y', 528).attr('width', legW + 16).attr('height', 34)
  .attr('fill', '#fff').attr('stroke', '#333').attr('stroke-width', 1)
</script>
</body>
</html>
